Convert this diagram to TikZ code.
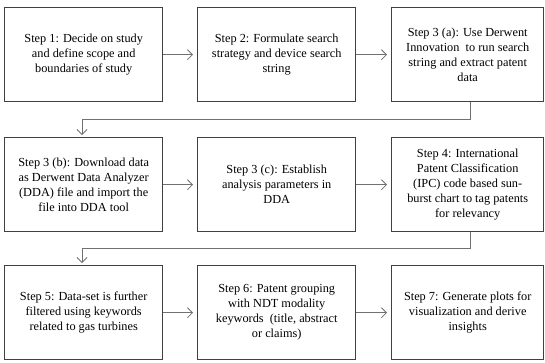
\documentclass[tikz,border=0pt]{standalone}
\usepackage{fontspec}
\setmainfont{Liberation Serif}
\usetikzlibrary{arrows.meta}
\definecolor{boxline}{HTML}{404040}
\definecolor{arrline}{HTML}{707070}
\begin{document}
\begin{tikzpicture}[x=1pt,y=-1pt,
  stepbox/.style={draw=boxline,line width=1.4pt,minimum width=158pt,minimum height=94pt,
    inner sep=0pt,align=center,font=\fontsize{12.3}{15}\selectfont,anchor=north west},
  flow/.style={draw=arrline,line width=0.8pt,-{Straight Barb[length=5pt,width=10pt]},shorten >=4pt}]
\useasboundingbox (0,0) rectangle (545,362);
\node[stepbox] (s1) at (4,7) {Step 1: Decide on study\\and define scope and\\boundaries of study};
\node[stepbox] (s2) at (197,7) {Step 2: Formulate search\\strategy and device search\\string};
\node[stepbox,minimum width=152pt] (s3a) at (391,7) {Step 3 (a): Use Derwent\\Innovation\ \ to run search\\string and extract patent\\data};
\node[stepbox] (s3b) at (4,137) {Step 3 (b): Download data\\as Derwent Data Analyzer\\(DDA) file and import the\\file into DDA tool};
\node[stepbox] (s3c) at (197,137) {Step 3 (c): Establish\\analysis parameters in\\DDA};
\node[stepbox,minimum width=152pt] (s4) at (391,137) {Step 4: International\\Patent Classification\\(IPC) code based sun-\\burst chart to tag patents\\for relevancy};
\node[stepbox] (s5) at (4,265) {Step 5: Data-set is further\\filtered using keywords\\related to gas turbines};
\node[stepbox] (s6) at (197,265) {Step 6: Patent grouping\\with NDT modality\\keywords\ \ (title, abstract\\or claims)};
\node[stepbox,minimum width=152pt] (s7) at (391,265) {Step 7: Generate plots for\\visualization and derive\\insights};
\draw[flow] (s1.east) -- (s2.west);
\draw[flow] (s2.east) -- (s3a.west);
\draw[flow] (s3b.east) -- (s3c.west);
\draw[flow] (s3c.east) -- (s4.west);
\draw[flow] (s5.east) -- (s6.west);
\draw[flow] (s6.east) -- (s7.west);
\draw[flow,shorten >=2pt] (s3a.south -| 470,0) -- (470,119) -- (82,119) -- (s3b.north -| 82,0);
\draw[flow,shorten >=2pt] (s4.south -| 470,0) -- (470,248) -- (82,248) -- (s5.north -| 82,0);
\end{tikzpicture}
\end{document}
